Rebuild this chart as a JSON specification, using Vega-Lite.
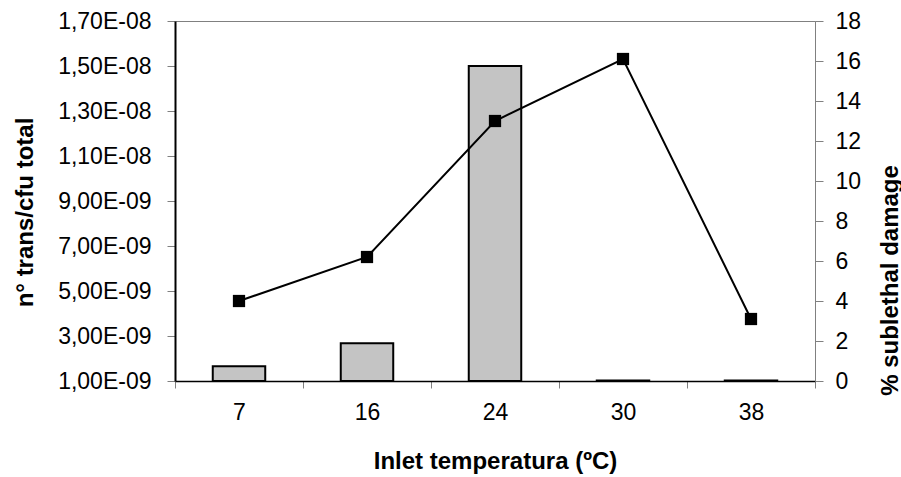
{
  "$schema": "https://vega.github.io/schema/vega-lite/v6.json",
  "width": 640,
  "height": 360,
  "autosize": {"type": "none"},
  "padding": {"left": 175, "top": 21, "right": 86, "bottom": 96},
  "background": "#ffffff",
  "config": {
    "font": "Liberation Sans",
    "view": {"stroke": "#808080", "strokeWidth": 1},
    "axis": {
      "grid": false,
      "labelFont": "Liberation Sans",
      "labelFontSize": 23,
      "labelColor": "#000000",
      "titleFont": "Liberation Sans",
      "titleFontSize": 24,
      "titleFontWeight": "bold",
      "titleColor": "#000000",
      "tickColor": "#808080",
      "tickSize": 8
    }
  },
  "data": {
    "values": [
      {"temp": 7, "trans": 1.66e-9, "damage": 4.0},
      {"temp": 16, "trans": 2.68e-9, "damage": 6.2},
      {"temp": 24, "trans": 1.5e-8, "damage": 13.0},
      {"temp": 30, "trans": 1.02e-9, "damage": 16.1},
      {"temp": 38, "trans": 1.02e-9, "damage": 3.1}
    ]
  },
  "layer": [
    {
      "mark": {"type": "bar", "fill": "#c4c4c4", "stroke": "#000000", "strokeWidth": 2, "width": {"band": 0.41}},
      "encoding": {
        "x": {
          "field": "temp",
          "type": "ordinal",
          "scale": {"paddingInner": 0, "paddingOuter": 0},
          "axis": {
            "title": "Inlet temperatura (ºC)",
            "labelAngle": 0,
            "tickBand": "extent",
            "domainColor": "#000000",
            "domainWidth": 1.5,
            "tickSize": 7,
            "labelPadding": 13,
            "titleY": 87,
            "titleBaseline": "alphabetic"
          }
        },
        "y": {
          "field": "trans",
          "type": "quantitative",
          "scale": {"domain": [1e-9, 1.7e-8], "zero": false, "nice": false},
          "axis": {
            "title": "n° trans/cfu total",
            "values": [1e-9, 3e-9, 5e-9, 7e-9, 9e-9, 1.1e-8, 1.3e-8, 1.5e-8, 1.7e-8],
            "labelExpr": "replace(replace(format(datum.value, '.2e'), '.', ','), 'e-', 'E-0')",
            "domainColor": "#000000",
            "domainWidth": 2,
            "labelPadding": 16,
            "titleAngle": 270,
            "titleX": -143,
            "titleY": 191,
            "titleBaseline": "alphabetic"
          }
        },
        "y2": {"datum": 1e-9}
      }
    },
    {
      "mark": {
        "type": "line",
        "color": "#000000",
        "strokeWidth": 2,
        "point": {"shape": "square", "size": 150, "filled": true, "fill": "#000000", "opacity": 1}
      },
      "encoding": {
        "x": {"field": "temp", "type": "ordinal"},
        "y": {
          "field": "damage",
          "type": "quantitative",
          "scale": {"domain": [0, 18], "nice": false},
          "axis": {
            "orient": "right",
            "title": "% sublethal damage",
            "values": [0, 2, 4, 6, 8, 10, 12, 14, 16, 18],
            "domainColor": "#808080",
            "labelPadding": 12,
            "titleAngle": 270,
            "titleX": 82,
            "titleY": 259,
            "titleBaseline": "alphabetic"
          }
        }
      }
    }
  ],
  "resolve": {"scale": {"y": "independent"}}
}
